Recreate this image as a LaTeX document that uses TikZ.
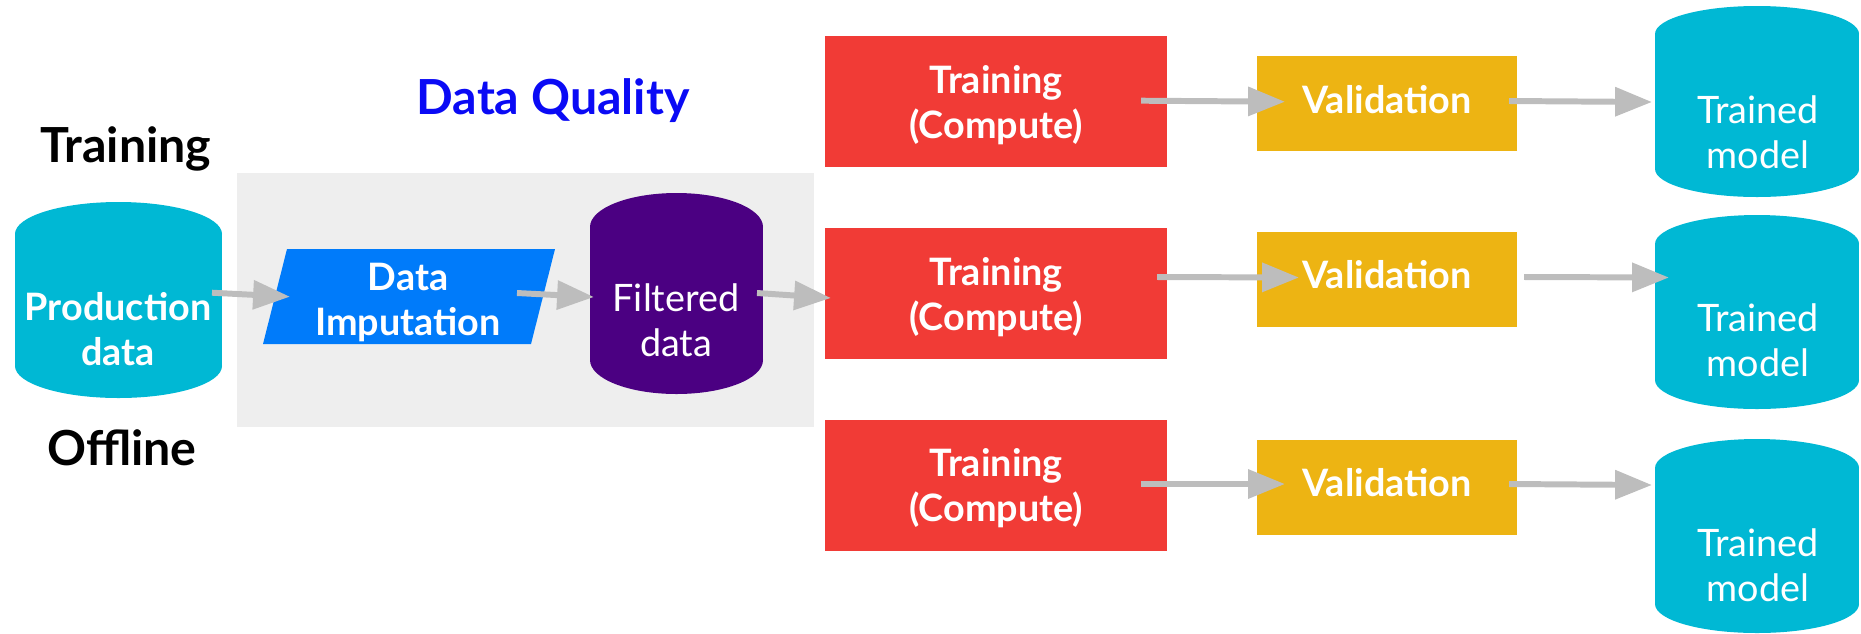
\documentclass[tikz,border=0pt]{standalone}
\usepackage{fontspec}
\setmainfont{Lato}
\usetikzlibrary{arrows.meta,calc}
\definecolor{cyanc}{RGB}{0,184,212}
\definecolor{purpc}{RGB}{75,0,130}
\definecolor{bluec}{RGB}{0,123,250}
\definecolor{redc}{RGB}{241,59,54}
\definecolor{goldc}{RGB}{237,180,19}
\definecolor{bgc}{RGB}{238,238,238}
\definecolor{arrc}{RGB}{189,189,189}
\definecolor{dqc}{RGB}{10,10,245}
\newcommand\pxu{0.02cm}
\newcommand\sx{\rule[-0.25em]{0pt}{1em}}
\begin{document}
\begin{tikzpicture}[x=0.02cm,y=-0.02cm,
  txt/.style={font=\fontsize{21.5}{25.5}\selectfont, text=white, align=center, inner sep=0pt},
  txtb/.style={txt, font=\fontsize{21.5}{25.5}\selectfont\bfseries},
  head/.style={font=\fontsize{27.5}{33}\selectfont\bfseries, anchor=base, inner sep=0pt},
  shp/.style={draw=none, inner sep=0pt, outer sep=0pt},
  arr/.style={draw=arrc, line width=3.4pt, -{Triangle[length=21pt,width=16pt]}},
]
\useasboundingbox (0,0) rectangle (1861,633);
% background panel
\fill[bgc] (237,173) rectangle (814,427);
% headings
\node[head] (htrain) at (126,162) {Training};
\node[head] (hoff) at (122,465) {Offline};
\node[head, text=dqc] (hdq) at (553,114) {Data Quality};
% production data cylinder
\node[shp, fill=cyanc, minimum width=207*\pxu, minimum height=132*\pxu] (pd) at (118.5,300) {};
\fill[cyanc] (pd.north) ellipse [x radius=103.5, y radius=32];
\fill[cyanc] (pd.south) ellipse [x radius=103.5, y radius=32];
\node[txtb] (pdt) at (118,333.7) {\sx Production\\data\sx};
% data imputation parallelogram
\node[shp, minimum width=268*\pxu, minimum height=95*\pxu] (imp) at (409,296.5) {};
\fill[bluec] ($(imp.south west)+(-12,0)$) -- ($(imp.south east)+(-12,0)$) -- ($(imp.north east)+(12,0)$) -- ($(imp.north west)+(12,0)$) -- cycle;
\node[txtb] (impt) at (408,303.7) {\sx Data\\Imputation\sx};
% filtered data cylinder
\node[shp, fill=purpc, minimum width=173*\pxu, minimum height=133*\pxu] (fd) at (676.5,293.5) {};
\fill[purpc] (fd.north) ellipse [x radius=86.5, y radius=34];
\fill[purpc] (fd.south) ellipse [x radius=86.5, y radius=34];
\node[txt] (fdt) at (676,324.7) {\sx Filtered\\data\sx};
% training boxes
\node[shp, fill=redc, minimum width=342*\pxu, minimum height=131*\pxu] (tr1) at (996,101.5) {};
\node[shp, fill=redc, minimum width=342*\pxu, minimum height=131*\pxu] (tr2) at (996,293.5) {};
\node[shp, fill=redc, minimum width=342*\pxu, minimum height=131*\pxu] (tr3) at (996,485.5) {};
\node[txtb] (tr1t) at (996,106.7) {\sx Training\\(Compute)\sx};
\node[txtb] (tr2t) at (996,298.7) {\sx Training\\(Compute)\sx};
\node[txtb] (tr3t) at (996,489.7) {\sx Training\\(Compute)\sx};
% validation boxes
\node[shp, fill=goldc, minimum width=260*\pxu, minimum height=95*\pxu] (val1) at (1387,103.5) {};
\node[shp, fill=goldc, minimum width=260*\pxu, minimum height=95*\pxu] (val2) at (1387,279.5) {};
\node[shp, fill=goldc, minimum width=260*\pxu, minimum height=95*\pxu] (val3) at (1387,487) {};
\node[txtb, anchor=base] (val1t) at (1387,113.7) {Validation};
\node[txtb, anchor=base] (val2t) at (1387,288.7) {Validation};
\node[txtb, anchor=base] (val3t) at (1387,496.7) {Validation};
% trained model cylinders
\node[shp, fill=cyanc, minimum width=204*\pxu, minimum height=135*\pxu] (tm1) at (1757,101.5) {};
\fill[cyanc] (tm1.north) ellipse [x radius=102, y radius=28];
\fill[cyanc] (tm1.south) ellipse [x radius=102, y radius=28];
\node[shp, fill=cyanc, minimum width=204*\pxu, minimum height=136*\pxu] (tm2) at (1757,312) {};
\fill[cyanc] (tm2.north) ellipse [x radius=102, y radius=29];
\fill[cyanc] (tm2.south) ellipse [x radius=102, y radius=29];
\node[shp, fill=cyanc, minimum width=204*\pxu, minimum height=136*\pxu] (tm3) at (1757,536) {};
\fill[cyanc] (tm3.north) ellipse [x radius=102, y radius=29];
\fill[cyanc] (tm3.south) ellipse [x radius=102, y radius=29];
\node[txt] (tm1t) at (1758,136.7) {\sx Trained\\model\sx};
\node[txt] (tm2t) at (1758,344.7) {\sx Trained\\model\sx};
\node[txt] (tm3t) at (1758,569.7) {\sx Trained\\model\sx};
% connectors
\draw[arr] ($(pd.center)+(93.5,-7.3)$) -- ($(imp.center)+(-119,0.2)$);
\draw[arr] ($(imp.center)+(108,-3.5)$) -- ($(fd.center)+(-82.5,3.5)$);
\draw[arr] ($(fd.center)+(80.5,-0.5)$) -- ($(tr2.center)+(-165,4.5)$);
\draw[arr] ($(tr1.center)+(145,-0.8)$) -- ($(val1.center)+(-102,-1.8)$);
\draw[arr] ($(val1.center)+(122,-2.5)$) -- ($(tm1.center)+(-105,0.5)$);
\draw[arr] ($(tr2.center)+(161,-16.5)$) -- ($(val2.center)+(-88,-2)$);
\draw[arr] ($(val2.center)+(137,-2.5)$) -- ($(tm2.center)+(-88,-34.5)$);
\draw[arr] ($(tr3.center)+(145,-1.5)$) -- ($(val3.center)+(-102,-3)$);
\draw[arr] ($(val3.center)+(122,-3)$) -- ($(tm3.center)+(-105,-51)$);
\end{tikzpicture}
\end{document}
